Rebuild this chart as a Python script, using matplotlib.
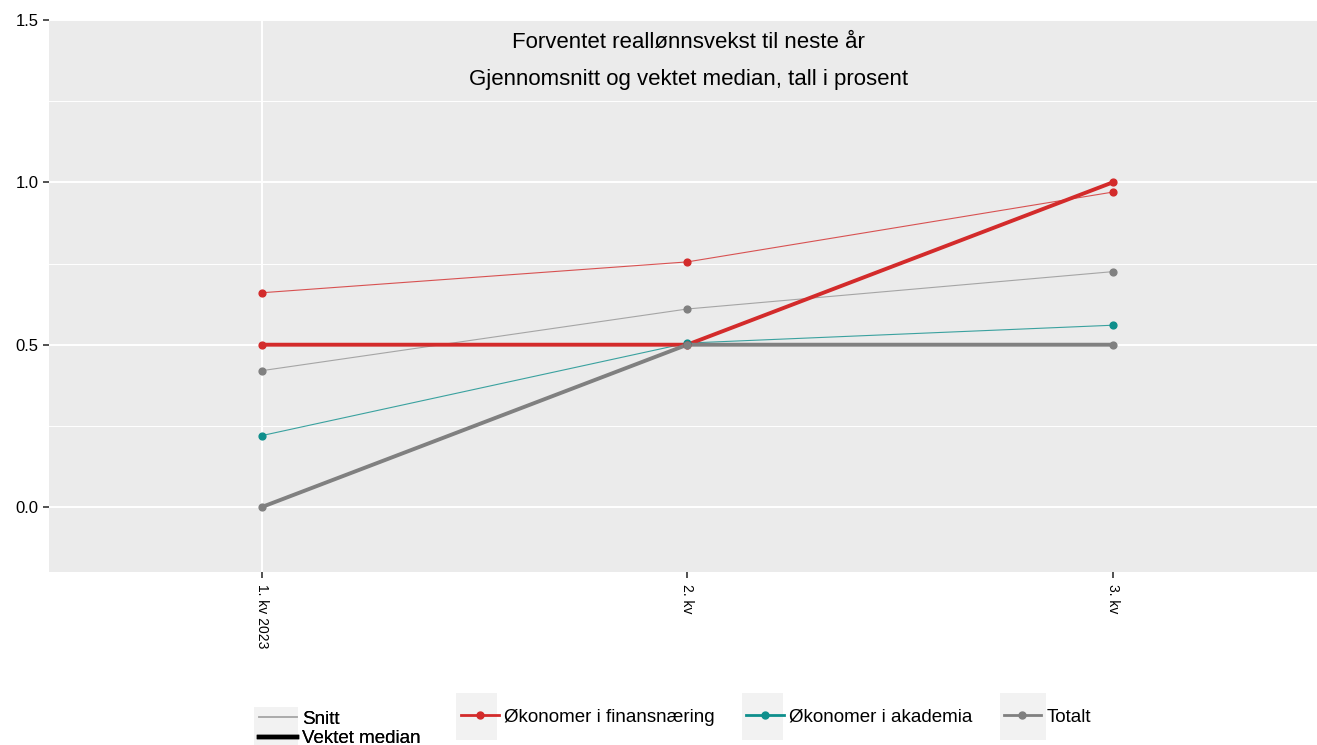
import matplotlib.pyplot as plt
from matplotlib.lines import Line2D
from matplotlib.patches import Rectangle

plt.rcParams['font.family'] = ['Liberation Sans', 'DejaVu Sans']

kvartaler = ['1. kv 2023', '2. kv', '3. kv']
finans_snitt = [0.66, 0.755, 0.97]
akademia_snitt = [0.22, 0.505, 0.56]
totalt_snitt = [0.42, 0.61, 0.725]
finans_median = [0.5, 0.5, 1.0]
totalt_median = [0.0, 0.5, 0.5]

rod = '#D32B2B'
teal = '#0E8F8C'
gra = '#808080'

W, H = 1317, 745
fig = plt.figure(figsize=(W / 100, H / 100), dpi=100)
ax = fig.add_axes([49 / W, 1 - 572 / H, (1317 - 49) / W, (572 - 20) / H])
ax.set_facecolor('#EBEBEB')
for s in ax.spines.values():
    s.set_visible(False)

x = [1, 2, 3]
ax.set_xlim(0.5, 3.48)
ax.set_ylim(-0.2, 1.5)
ax.set_yticks([0, 0.5, 1.0, 1.5])
ax.set_yticks([0.25, 0.75, 1.25], minor=True)
ax.set_yticklabels(['0.0', '0.5', '1.0', '1.5'], fontsize=12)
ax.set_xticks(x)
ax.set_xticklabels(kvartaler, rotation=270, fontsize=10, va='top', ha='center')
ax.tick_params(axis='both', which='major', length=4, width=1.2, color='#333333')
ax.tick_params(axis='x', pad=5)
ax.tick_params(axis='y', which='minor', length=0)
ax.grid(axis='y', which='major', color='white', lw=1.4)
ax.grid(axis='y', which='minor', color='white', lw=0.7)
ax.axvline(1, color='white', lw=1.4, zorder=0.5)
ax.set_axisbelow(True)

# snitt (tynne linjer)
ax.plot(x, finans_snitt, color=rod, lw=0.8, alpha=0.8, zorder=3)
ax.plot(x, akademia_snitt, color=teal, lw=0.8, alpha=0.8, zorder=3)
ax.plot(x, totalt_snitt, color=gra, lw=0.8, alpha=0.65, zorder=3)
ax.scatter(x, finans_snitt, color=rod, s=24, zorder=5)
ax.scatter(x, akademia_snitt, color=teal, s=24, zorder=5)
ax.scatter(x, totalt_snitt, color=gra, s=24, zorder=5)

# vektet median (tykke linjer)
ax.plot(x, finans_median, color=rod, lw=2.8, zorder=4)
ax.plot(x, totalt_median, color=gra, lw=2.8, zorder=4)
ax.scatter(x, finans_median, color=rod, s=24, zorder=5)
ax.scatter(x, totalt_median, color=gra, s=24, zorder=5)

ax.text(0.504, 0.960, 'Forventet reallønnsvekst til neste år', transform=ax.transAxes,
        ha='center', va='center', fontsize=16)
ax.text(0.504, 0.892, 'Gjennomsnitt og vektet median, tall i prosent', transform=ax.transAxes,
        ha='center', va='center', fontsize=16)

# grå bakgrunn bak legend-nøklene
for (x0, y0, x1, y1) in [(254, 707, 298, 745), (456, 693, 497, 740),
                         (742, 693, 783, 740), (1000, 693, 1046, 740)]:
    fig.patches.append(Rectangle((x0 / W, 1 - y1 / H), (x1 - x0) / W, (y1 - y0) / H,
                                 transform=fig.transFigure, facecolor='#F2F2F2',
                                 edgecolor='none', zorder=0))

h1 = [Line2D([], [], color='#AAAAAA', lw=1.2), Line2D([], [], color='black', lw=3.2)]
leg1 = fig.legend(h1, ['Snitt', 'Vektet median'], loc='center left',
                  bbox_to_anchor=(250 / W, 1 - 729 / H), frameon=False, fontsize=13.5,
                  handlelength=2.0, handletextpad=0.3, labelspacing=0.12, borderpad=0)

h2 = [Line2D([], [], color=c, lw=2, marker='o', ms=5) for c in (rod, teal, gra)]
fig.legend(h2, ['Økonomer i finansnæring', 'Økonomer i akademia', 'Totalt'],
           loc='center left', bbox_to_anchor=(452 / W, 1 - 717 / H), ncol=3,
           frameon=False, fontsize=13.5, handlelength=2.0, handletextpad=0.3,
           columnspacing=1.65, borderpad=0)
fig.add_artist(leg1)

fig.savefig('out.png', dpi=100)
